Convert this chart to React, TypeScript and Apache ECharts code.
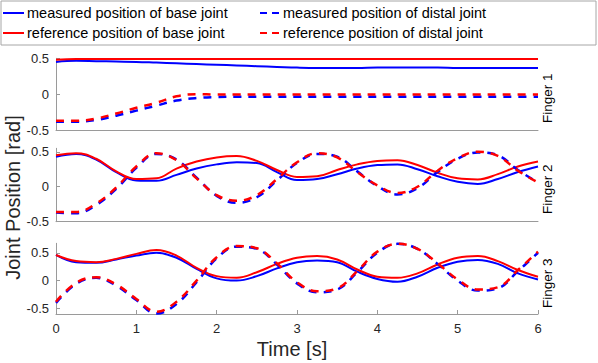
import React, { useEffect, useRef } from "react";
import * as echarts from "echarts";

// ---------- data ----------
const time = [0, 0.25, 0.5, 0.75, 1, 1.25, 1.5, 1.75, 2, 2.25, 2.5, 2.75, 3, 3.25, 3.5, 3.75, 4, 4.25, 4.5, 4.75, 5, 5.25, 5.5, 5.75, 6];
const xTicks = [0, 1, 2, 3, 4, 5, 6];
const yTicks = [-0.5, 0, 0.5];

const legendNames = [
  "measured position of base joint",
  "reference position of base joint",
  "measured position of distal joint",
  "reference position of distal joint",
];
const fingerLabels = ["Finger 1", "Finger 2", "Finger 3"];
const yRanges = [
  [-0.5, 0.5],
  [-0.5, 0.55],
  [-0.6, 0.67],
];

// Finger 1
const f1MeasBase = [0.45, 0.465, 0.46, 0.455, 0.45, 0.44, 0.43, 0.42, 0.41, 0.4, 0.39, 0.38, 0.37, 0.365, 0.365, 0.365, 0.37, 0.37, 0.37, 0.37, 0.365, 0.365, 0.365, 0.365, 0.365];
const f1RefBase = [0.48, 0.49, 0.49, 0.49, 0.49, 0.49, 0.49, 0.49, 0.49, 0.49, 0.49, 0.49, 0.49, 0.49, 0.49, 0.49, 0.49, 0.49, 0.49, 0.49, 0.49, 0.49, 0.49, 0.49, 0.49];
const f1MeasDistal = [-0.385, -0.385, -0.36, -0.3, -0.23, -0.16, -0.09, -0.055, -0.04, -0.035, -0.035, -0.035, -0.035, -0.035, -0.035, -0.035, -0.035, -0.035, -0.035, -0.035, -0.035, -0.035, -0.035, -0.035, -0.035];
const f1RefDistal = [-0.37, -0.37, -0.34, -0.27, -0.19, -0.12, -0.03, 0, -0.005, -0.005, -0.005, -0.005, -0.005, -0.005, -0.005, -0.005, -0.005, -0.005, -0.005, -0.005, -0.005, -0.005, -0.005, -0.005, -0.005];

// Finger 2
const f2MeasBase = [0.43, 0.47, 0.39, 0.21, 0.09, 0.085, 0.17, 0.26, 0.32, 0.35, 0.34, 0.21, 0.095, 0.11, 0.18, 0.26, 0.31, 0.32, 0.25, 0.15, 0.07, 0.04, 0.11, 0.21, 0.29];
const f2RefBase = [0.45, 0.48, 0.4, 0.22, 0.11, 0.12, 0.26, 0.36, 0.42, 0.44, 0.37, 0.24, 0.14, 0.15, 0.24, 0.32, 0.37, 0.38, 0.31, 0.2, 0.12, 0.105, 0.18, 0.29, 0.36];
const f2MeasDistal = [-0.37, -0.38, -0.26, -0.03, 0.27, 0.47, 0.39, 0.13, -0.13, -0.23, -0.15, 0.09, 0.34, 0.47, 0.43, 0.22, 0.01, -0.11, -0.02, 0.21, 0.4, 0.49, 0.45, 0.24, 0.06];
const f2RefDistal = [-0.36, -0.36, -0.24, -0.01, 0.29, 0.48, 0.38, 0.12, -0.12, -0.2, -0.12, 0.11, 0.35, 0.48, 0.42, 0.21, 0.02, -0.09, 0.0, 0.23, 0.41, 0.5, 0.44, 0.23, 0.06];

// Finger 3
const f3MeasBase = [0.46, 0.33, 0.32, 0.38, 0.45, 0.5, 0.41, 0.21, 0.04, 0.0, 0.08, 0.22, 0.33, 0.36, 0.33, 0.16, 0.03, -0.02, 0.07, 0.23, 0.34, 0.37, 0.3, 0.13, 0.02];
const f3RefBase = [0.46, 0.35, 0.33, 0.39, 0.48, 0.55, 0.45, 0.23, 0.08, 0.05, 0.15, 0.3, 0.41, 0.44, 0.38, 0.2, 0.07, 0.05, 0.13, 0.29, 0.41, 0.44, 0.35, 0.19, 0.07];
const f3MeasDistal = [-0.4, -0.06, 0.05, -0.09, -0.35, -0.59, -0.42, -0.03, 0.4, 0.61, 0.57, 0.29, -0.05, -0.21, -0.16, 0.15, 0.5, 0.66, 0.57, 0.3, 0.0, -0.18, -0.14, 0.17, 0.5];
const f3RefDistal = [-0.38, -0.04, 0.06, -0.07, -0.33, -0.56, -0.38, 0.0, 0.42, 0.62, 0.58, 0.31, -0.03, -0.19, -0.14, 0.17, 0.52, 0.66, 0.57, 0.31, 0.02, -0.16, -0.12, 0.19, 0.52];

const fingers = [
  [f1MeasBase, f1RefBase, f1MeasDistal, f1RefDistal],
  [f2MeasBase, f2RefBase, f2MeasDistal, f2RefDistal],
  [f3MeasBase, f3RefBase, f3MeasDistal, f3RefDistal],
];

// ---------- styling ----------
const FONT = "'Liberation Sans', Arial, Helvetica, sans-serif";
const BLUE = "#0000ff";
const RED = "#ff0000";
const AXIS = "#9a9a9a";
const LABEL = "#262626";
const seriesColors = [BLUE, RED, BLUE, RED];
const DASH = [8, 7];

const grids = [
  { left: 56, width: 482, top: 58.3, height: 71.7 },
  { left: 56, width: 482, top: 148.3, height: 73.4 },
  { left: 56, width: 482, top: 243.3, height: 70.7 },
];
const fingerLabelY = [98.3, 189.2, 283.3];

// legend layout (2 x 2)
const legendSlots = [
  { x1: 3, x2: 24, tx: 27, y: 13 },
  { x1: 3, x2: 24, tx: 27, y: 33 },
  { x1: 260, x2: 279, tx: 283, y: 13 },
  { x1: 260, x2: 279, tx: 283, y: 33 },
];

function centeredText(text: string, x: number, y: number, size: number, fill: string, rot = 0) {
  return {
    type: "text",
    x,
    y,
    rotation: rot,
    silent: true,
    style: {
      text,
      fontSize: size,
      fontFamily: FONT,
      fill,
      align: "center",
      verticalAlign: "middle",
      textAlign: "center",
      textVerticalAlign: "middle",
    },
  };
}

function buildOption() {
  const xAxis = grids.map((_, i) => ({
    type: "value",
    gridIndex: i,
    min: 0,
    max: 6,
    interval: 1,
    axisLine: { show: true, onZero: false, lineStyle: { color: AXIS, width: 1 } },
    axisTick: {
      show: i === 2,
      inside: true,
      length: 4,
      lineStyle: { color: AXIS },
      customValues: xTicks,
    },
    axisLabel: {
      show: i === 2,
      color: LABEL,
      fontSize: 13,
      fontFamily: FONT,
      margin: 8,
      customValues: xTicks,
    },
    splitLine: { show: false },
  }));
  const yAxis = grids.map((_, i) => ({
    type: "value",
    gridIndex: i,
    min: yRanges[i][0],
    max: yRanges[i][1],
    axisLine: { show: true, onZero: false, lineStyle: { color: AXIS, width: 1 } },
    axisTick: {
      show: true,
      inside: true,
      length: 4,
      lineStyle: { color: AXIS },
      customValues: yTicks,
    },
    axisLabel: {
      show: true,
      color: LABEL,
      fontSize: 13,
      fontFamily: FONT,
      margin: 7,
      customValues: yTicks,
      formatter: (v: number) => (v === 0 ? "0" : String(v)),
    },
    splitLine: { show: false },
  }));

  const series: any[] = [];
  fingers.forEach((set, gi) => {
    set.forEach((vals, si) => {
      const dashed = si >= 2;
      series.push({
        type: "line",
        name: legendNames[si],
        xAxisIndex: gi,
        yAxisIndex: gi,
        data: time.map((t, k) => [t, vals[k]]),
        symbol: "none",
        showSymbol: false,
        smooth: 0.4,
        color: seriesColors[si],
        itemStyle: { color: seriesColors[si] },
        lineStyle: {
          color: seriesColors[si],
          width: dashed ? 2.5 : 2,
          type: dashed ? DASH : "solid",
        },
        z: 2 + si,
        silent: true,
      });
    });
  });

  const legendGraphics: any[] = [];
  legendSlots.forEach((s, i) => {
    const dashed = i >= 2;
    const color = i % 2 === 0 ? BLUE : RED;
    legendGraphics.push({
      type: "line",
      silent: true,
      shape: { x1: s.x1, y1: s.y, x2: s.x2, y2: s.y },
      style: { stroke: color, lineWidth: 2, lineDash: dashed ? [7, 5] : null },
    });
    legendGraphics.push({
      type: "text",
      x: s.tx,
      y: s.y,
      silent: true,
      style: {
        text: legendNames[i === 0 ? 0 : i === 1 ? 1 : i === 2 ? 2 : 3],
        fontSize: 14.5,
        fontFamily: FONT,
        fill: "#000",
        align: "left",
        verticalAlign: "middle",
        textAlign: "left",
        textVerticalAlign: "middle",
      },
    });
  });

  const graphic: any[] = [
    {
      type: "rect",
      silent: true,
      shape: { x: 1, y: 1, width: 595, height: 44 },
      style: { fill: "none", stroke: "#a6a6a6", lineWidth: 1 },
    },
    ...legendGraphics,
    centeredText("Joint Position [rad]", 13, 197.5, 20, LABEL, Math.PI / 2),
    centeredText("Time [s]", 292, 349, 20, LABEL),
    ...fingerLabels.map((t, i) => centeredText(t, 547, fingerLabelY[i], 13.5, "#000", Math.PI / 2)),
  ];

  return {
    animation: false,
    backgroundColor: "#ffffff",
    grid: grids,
    xAxis,
    yAxis,
    graphic,
    series,
  };
}

export default function App() {
  const ref = useRef<HTMLDivElement>(null);
  useEffect(() => {
    if (!ref.current) return;
    const chart = echarts.init(ref.current, null, { renderer: "svg" });
    chart.setOption(buildOption() as any);
    return () => chart.dispose();
  }, []);
  return (
    <div
      ref={ref}
      style={{ position: "absolute", left: 0, top: 0, width: 598, height: 363 }}
    />
  );
}
